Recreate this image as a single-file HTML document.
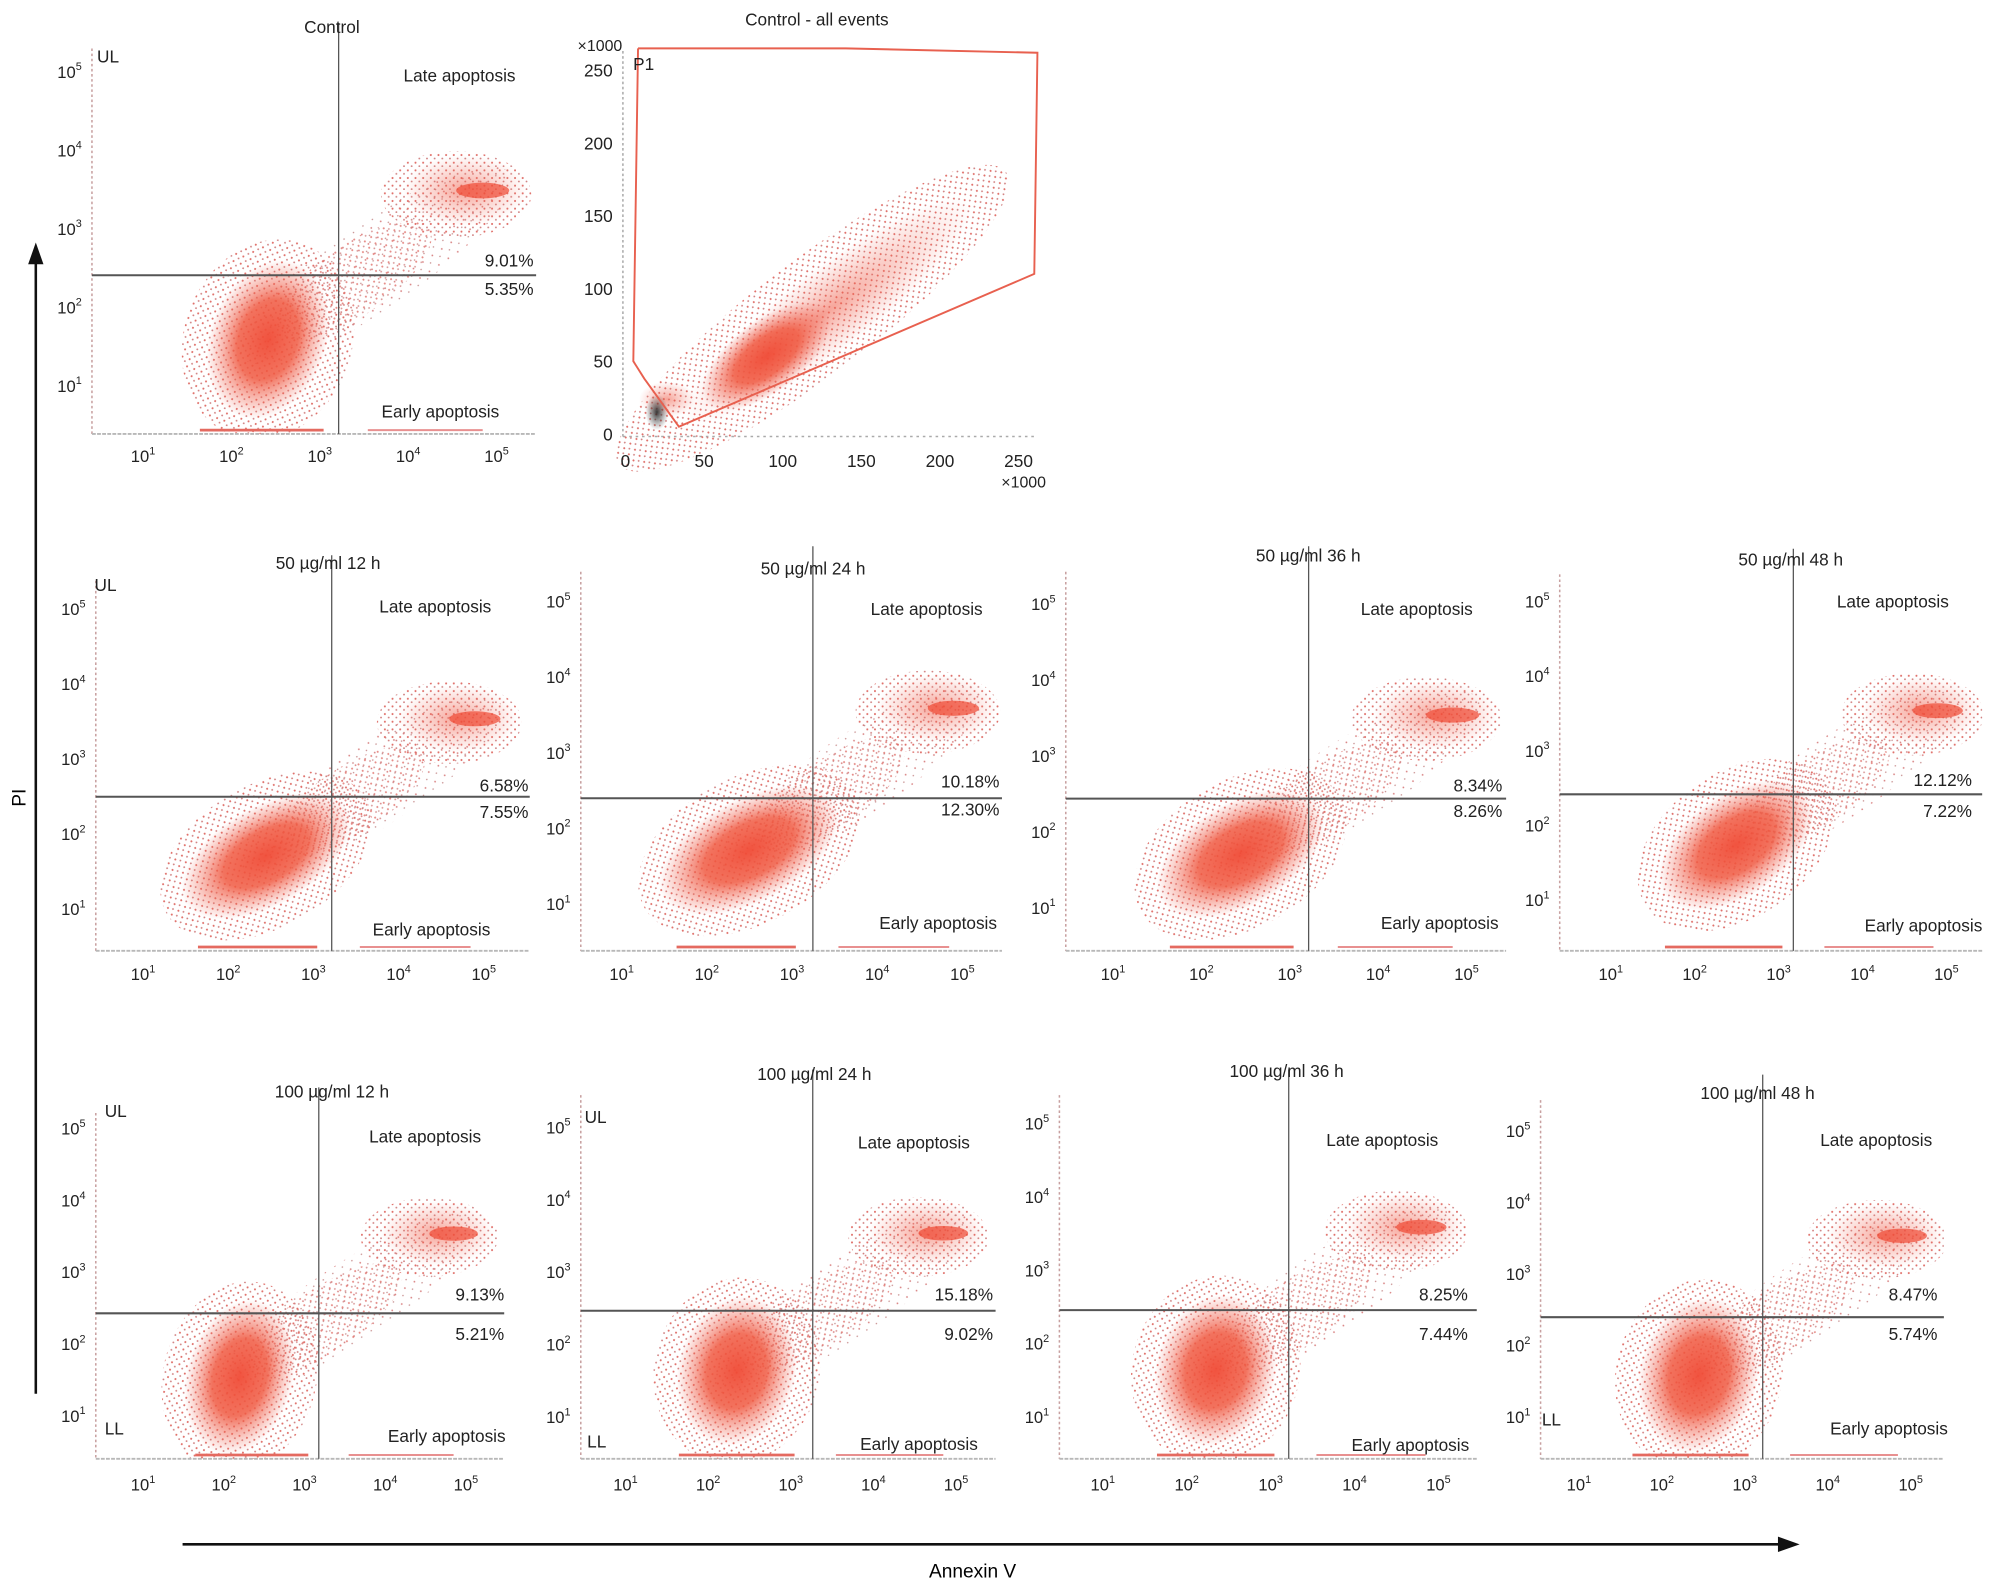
<!DOCTYPE html>
<html><head><meta charset="utf-8"><style>
html,body{margin:0;padding:0;background:#fff;}
svg{display:block;font-family:"Liberation Sans",sans-serif;}
</style></head><body>
<svg id="fig" xmlns="http://www.w3.org/2000/svg" width="1995" height="1589" viewBox="0 0 1563 1245">
<defs>
<radialGradient id="core"><stop offset="0" stop-color="#f04a35" stop-opacity="0.95"/><stop offset="0.5" stop-color="#f05a42" stop-opacity="0.85"/><stop offset="1" stop-color="#f07060" stop-opacity="0"/></radialGradient>
<radialGradient id="soft"><stop offset="0" stop-color="#f05a45" stop-opacity="0.55"/><stop offset="1" stop-color="#f07060" stop-opacity="0"/></radialGradient>
<radialGradient id="blk"><stop offset="0" stop-color="#222" stop-opacity="0.9"/><stop offset="1" stop-color="#444" stop-opacity="0"/></radialGradient>
<pattern id="dots" width="6" height="6" patternUnits="userSpaceOnUse"><circle cx="1.5" cy="1.5" r="0.8" fill="#e0706a"/><circle cx="4.5" cy="4.2" r="0.7" fill="#d08080"/></pattern>
<pattern id="dots2" width="9" height="9" patternUnits="userSpaceOnUse"><circle cx="2" cy="2" r="0.7" fill="#d88080"/><circle cx="6.5" cy="6" r="0.6" fill="#c89090"/></pattern>
</defs>
<g id="arrows">
<line x1="28" y1="1092" x2="28" y2="205" stroke="#111" stroke-width="2"/>
<polygon points="28,190 22,207 34,207" fill="#111"/>
<text x="20" y="625" font-size="15" text-anchor="middle" transform="rotate(-90 20 625)">PI</text>
<line x1="143" y1="1210" x2="1395" y2="1210" stroke="#111" stroke-width="2"/>
<polygon points="1410,1210 1393,1204 1393,1216" fill="#111"/>
<text x="762" y="1236" font-size="15" text-anchor="middle">Annexin V</text>
</g>
</svg>
<script>
// ---- data ----
const panelTitles = ["Control","50 µg/ml 12 h","50 µg/ml 24 h","50 µg/ml 36 h","50 µg/ml 48 h","100 µg/ml 12 h","100 µg/ml 24 h","100 µg/ml 36 h","100 µg/ml 48 h"];
const upperPct = ["9.01%","6.58%","10.18%","8.34%","12.12%","9.13%","15.18%","8.25%","8.47%"];
const lowerPct = ["5.35%","7.55%","12.30%","8.26%","7.22%","5.21%","9.02%","7.44%","5.74%"];
const gateX = [3.17,3.17,3.2,3.17,3.13,3.13,3.22,3.17,3.17];
const gateY = [2.42,2.51,2.41,2.45,2.43,2.44,2.48,2.47,2.41];
const mainX = [2.37,2.4,2.45,2.4,2.45,2.15,2.3,2.3,2.4];
const mainY = [1.6,1.72,1.72,1.72,1.75,1.55,1.65,1.65,1.6];
const lateX = [4.8,4.85,4.85,4.8,4.85,4.8,4.8,4.75,4.85];
const lateY = [3.5,3.55,3.6,3.55,3.55,3.55,3.55,3.6,3.55];
const tickLabels = ["1","2","3","4","5"];
const fscTicks = [0,50,100,150,200,250];
const fscClusterX = [85,140,20];
const fscClusterY = [50,95,15];
const gateVertsX = [8,140,262,260,34,12,5,8];
const gateVertsY = [265,265,262,110,5,38,50,265];

// ---- layout (positions/shape only) ----
const L = [
 {x1:115,dx:69.25,y1:303,dy:61.5,l:72,r:420,t:38,b:340,xl:362,tt:[260,26],ul:[76,49],ll:null,la:[360,64],px:418,pu:209,pl:231,ea:[345,327],sx:0.6,sy:0.95,rot:20},
 {x1:115,dx:66.75,y1:713,dy:58.75,l:75,r:415,t:455,b:745,xl:768,tt:[257,446],ul:[74,463],ll:null,la:[341,480],px:414,pu:620,pl:641,ea:[338,733],sx:1.0,sy:0.6,rot:-30},
 {x1:490,dx:66.75,y1:709,dy:59.25,l:455,r:785,t:448,b:745,xl:768,tt:[637,450],ul:null,ll:null,la:[726,482],px:783,pu:617,pl:639,ea:[735,728],sx:1.05,sy:0.62,rot:-28},
 {x1:875,dx:69.25,y1:712,dy:59.5,l:835,r:1180,t:448,b:745,xl:768,tt:[1025,440],ul:null,ll:null,la:[1110,482],px:1177,pu:620,pl:640,ea:[1128,728],sx:0.95,sy:0.62,rot:-30},
 {x1:1265,dx:65.75,y1:706,dy:58.5,l:1222,r:1553,t:450,b:745,xl:768,tt:[1403,443],ul:null,ll:null,la:[1483,476],px:1545,pu:616,pl:640,ea:[1507,730],sx:0.95,sy:0.62,rot:-35},
 {x1:115,dx:63.25,y1:1110,dy:56.25,l:75,r:395,t:872,b:1143,xl:1168,tt:[260,860],ul:[82,875],ll:[82,1124],la:[333,895],px:395,pu:1019,pl:1050,ea:[350,1130],sx:0.6,sy:1.0,rot:15},
 {x1:493,dx:64.75,y1:1111,dy:56.75,l:455,r:780,t:858,b:1143,xl:1168,tt:[638,846],ul:[458,880],ll:[460,1134],la:[716,900],px:778,pu:1019,pl:1050,ea:[720,1136],sx:0.65,sy:0.95,rot:15},
 {x1:867,dx:65.75,y1:1111,dy:57.5,l:830,r:1157,t:858,b:1143,xl:1168,tt:[1008,844],ul:null,ll:null,la:[1083,898],px:1150,pu:1019,pl:1050,ea:[1105,1137],sx:0.65,sy:0.95,rot:15},
 {x1:1240,dx:65,y1:1111,dy:56,l:1207,r:1523,t:862,b:1143,xl:1168,tt:[1377,861],ul:null,ll:[1208,1117],la:[1470,898],px:1518,pu:1019,pl:1050,ea:[1480,1124],sx:0.65,sy:1.0,rot:15}
];
const NS="http://www.w3.org/2000/svg";
const svg=document.getElementById('fig');
function mk(tag,attrs,parent){const e=document.createElementNS(NS,tag);for(const k in attrs)e.setAttribute(k,attrs[k]);(parent||svg).appendChild(e);return e;}
function txt(parent,x,y,s,size,anchor){const t=mk('text',{x:x,y:y,'font-size':size,'text-anchor':anchor||'middle',fill:'#222'},parent);t.textContent=s;return t;}

for(let i=0;i<9;i++){
 const p=L[i];
 const X=v=>p.x1+(v-1)*p.dx, Y=v=>p.y1-(v-1)*p.dy;
 const g=mk('g',{});
 
 
 const cp=mk('clipPath',{id:'c'+i},g);
 mk('rect',{x:p.l,y:p.t,width:p.r-p.l,height:p.b-p.t},cp);
 const d=mk('g',{'clip-path':'url(#c'+i+')'},g);
 
 
 const mx=X(mainX[i]),my=Y(mainY[i]),lx=X(lateX[i]),ly=Y(lateY[i]);
 const ang=Math.atan2(ly-my,lx-mx)*180/Math.PI;
 const len=Math.hypot(lx-mx,ly-my);
 const s1=mk('ellipse',{cx:(mx+lx)/2,cy:(my+ly)/2,rx:len*0.62,ry:0.55*p.dy,fill:'url(#dots2)',transform:`rotate(${ang} ${(mx+lx)/2} ${(my+ly)/2})`},d);
 
 
 mk('ellipse',{cx:(mx*0.6+lx*0.4),cy:(my*0.6+ly*0.4),rx:len*0.35,ry:0.45*p.dy,fill:'url(#dots)',opacity:0.8,transform:`rotate(${ang} ${(mx*0.6+lx*0.4)} ${(my*0.6+ly*0.4)})`},d);
 const tr=`rotate(${p.rot} ${mx} ${my})`;
 mk('ellipse',{cx:mx,cy:my,rx:(p.sx+0.35)*p.dx,ry:(p.sy+0.35)*p.dy,fill:'url(#dots)',transform:tr},d);
 const core=mk('ellipse',{cx:mx,cy:my,rx:p.sx*p.dx*1.1,ry:p.sy*p.dy*1.1,fill:'url(#core)',transform:tr},d);
 
 
 mk('ellipse',{cx:lx-0.3*p.dx,cy:ly+0.05*p.dy,rx:0.85*p.dx,ry:0.55*p.dy,fill:'url(#dots)'},d);
 mk('ellipse',{cx:lx-0.2*p.dx,cy:ly,rx:0.7*p.dx,ry:0.45*p.dy,fill:'url(#soft)'},d);
 const lc=mk('ellipse',{cx:lx,cy:ly,rx:0.3*p.dx,ry:0.1*p.dy,fill:'#f04a35',opacity:0.7},d);
 
 
 mk('line',{x1:X(1.6),y1:p.b-3,x2:X(3.0),y2:p.b-3,stroke:'#e46a60','stroke-width':2.2},d);
 mk('line',{x1:X(3.5),y1:p.b-3,x2:X(4.8),y2:p.b-3,stroke:'#e89090','stroke-width':1.5},d);
 mk('line',{x1:p.l,y1:p.t,x2:p.l,y2:p.b,stroke:'#c8a0a0','stroke-width':1.2,'stroke-dasharray':'2,2'},g);
 mk('line',{x1:p.l,y1:p.b,x2:p.r,y2:p.b,stroke:'#b8b8b8','stroke-width':1.5,'stroke-dasharray':'3,1'},g);
 const qv=mk('line',{x1:X(gateX[i]),y1:p.t-20,x2:X(gateX[i]),y2:p.b,stroke:'#555','stroke-width':1},g);
 
 
 const qh=mk('line',{x1:p.l,y1:Y(gateY[i]),x2:p.r,y2:Y(gateY[i]),stroke:'#555','stroke-width':1.6},g);
 
 
 for(let k=0;k<5;k++){
  const ty=txt(g,p.l-8,Y(k+1)+4,'10',13,'end');
  const sp=mk('tspan',{dy:-6,'font-size':8.5},ty);sp.textContent=tickLabels[k];
  
  
  const tx=txt(g,X(k+1)-3,p.xl,'10',13,'middle');
  const sp2=mk('tspan',{dy:-6,'font-size':8.5},tx);sp2.textContent=tickLabels[k];
  
  
 }
 const tt=txt(g,p.tt[0],p.tt[1],panelTitles[i],13.5);
 
 
 const la=txt(g,p.la[0],p.la[1],'Late apoptosis',13.5);
 
 
 const ea=txt(g,p.ea[0],p.ea[1],'Early apoptosis',13.5);
 
 
 const pu=txt(g,p.px,p.pu,upperPct[i],13.5,'end');
 
 
 const pl=txt(g,p.px,p.pl,lowerPct[i],13.5,'end');
 
 
 if(p.ul){const u=txt(g,p.ul[0],p.ul[1],'UL',13.5,'start');}
 if(p.ll){const u=txt(g,p.ll[0],p.ll[1],'LL',13.5,'start');}
}

(function(){
 const FX=k=>490+k*1.232, FY=k=>340-k*1.14;
 const g=mk('g',{});
 
 
 mk('line',{x1:488,y1:40,x2:488,y2:342,stroke:'#aaa','stroke-width':1.2,'stroke-dasharray':'2,2'},g);
 mk('line',{x1:488,y1:342,x2:812,y2:342,stroke:'#aaa','stroke-width':1.2,'stroke-dasharray':'2,3'},g);
 const ang=Math.atan2(FY(fscClusterY[1])-FY(fscClusterY[0]),FX(fscClusterX[1])-FX(fscClusterX[0]))*180/Math.PI;
 const cx=FX((fscClusterX[0]+fscClusterX[1])/2), cy=FY((fscClusterY[0]+fscClusterY[1])/2);
 mk('ellipse',{cx:cx+8,cy:cy-8,rx:190,ry:45,fill:'url(#dots)',transform:`rotate(${ang} ${cx+8} ${cy-8})`},g);
 mk('ellipse',{cx:cx+20,cy:cy-14,rx:140,ry:32,fill:'url(#soft)',transform:`rotate(${ang} ${cx+20} ${cy-14})`},g);
 const c1=mk('ellipse',{cx:FX(fscClusterX[0])+6,cy:FY(fscClusterY[0])-4,rx:60,ry:28,fill:'url(#core)',transform:`rotate(${ang} ${FX(fscClusterX[0])+6} ${FY(fscClusterY[0])-4})`},g);
 
 
 mk('ellipse',{cx:FX(fscClusterX[2])+8,cy:FY(fscClusterY[2])-10,rx:22,ry:14,fill:'url(#soft)'},g);
 const bk=mk('ellipse',{cx:FX(fscClusterX[2]),cy:FY(fscClusterY[2]),rx:9,ry:14,fill:'url(#blk)'},g);
 
 
 let pts=[];for(let k=0;k<gateVertsX.length;k++)pts.push(FX(gateVertsX[k])+','+FY(gateVertsY[k]));
 const gp=mk('polyline',{points:pts.join(' '),fill:'none',stroke:'#e8604f','stroke-width':1.5},g);
 
 
 for(const v of fscTicks){
  const a=txt(g,FX(v),366,String(v),13.5);
  const b=txt(g,480,FY(v)+5,String(v),13.5,'end');
 }
 const t=txt(g,640,20,'Control - all events',13.5);
 const m1=txt(g,470,40,'×1000',12.5);
 const m2=txt(g,802,382,'×1000',12.5);
 const p1=txt(g,496,55,'P1',13.5,'start');
})();
</script>
</body></html>
